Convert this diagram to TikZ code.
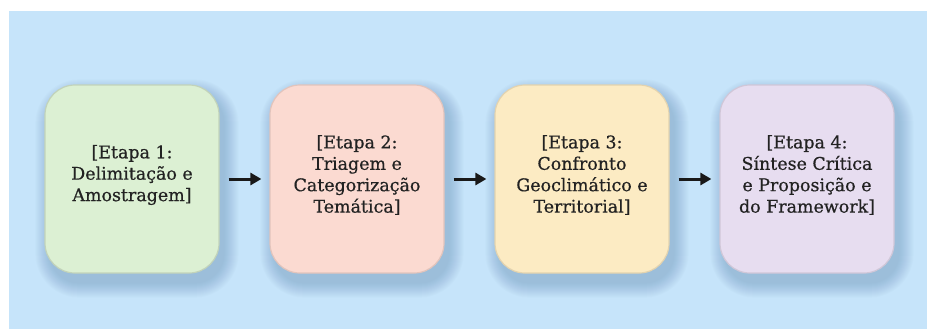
\documentclass[tikz,border=0pt]{standalone}
\usepackage{fontspec}
\setmainfont{DejaVu Serif}[FakeBold=0.6]
\usetikzlibrary{arrows.meta}
\definecolor{bgc}{HTML}{C6E4FA}
\definecolor{shc}{HTML}{5A86AE}
\definecolor{cA}{HTML}{DCF0D3}
\definecolor{cB}{HTML}{FBDAD1}
\definecolor{cC}{HTML}{FCEBC3}
\definecolor{cD}{HTML}{E7DDF0}
\definecolor{txt}{HTML}{222222}
\pgfdeclarelayer{back}
\pgfsetlayers{back,main}
\begin{document}
\begin{tikzpicture}[x=1bp,y=-1bp,
  box/.style={rounded corners=30bp, minimum width=174bp, minimum height=188bp, inner sep=0pt, line width=1.2bp},
  lbl/.style={align=center, font=\fontsize{17.5}{21.5}\selectfont, text=txt, inner sep=0pt},
  arr/.style={-{Triangle[length=11bp,width=12bp]}, line width=3bp, draw=black!90, shorten <=9bp, shorten >=8bp}
]
\useasboundingbox (0,0) rectangle (927,329);

\node[box, fill=cA, draw=cA!88!black] (b1) at (132,179) {};
\node[box, fill=cB, draw=cB!90!black] (b2) at (357,179) {};
\node[box, fill=cC, draw=cC!90!black] (b3) at (582,179) {};
\node[box, fill=cD, draw=cD!90!black] (b4) at (807,179) {};

\node[lbl] (t1) at ([yshift=4bp]b1.center) {[Etapa 1:\\Delimitação e\\Amostragem]};
\node[lbl] (t2) at ([yshift=4bp]b2.center) {[Etapa 2:\\Triagem e\\Categorização\\Temática]};
\node[lbl] (t3) at ([yshift=4bp]b3.center) {[Etapa 3:\\Confronto\\Geoclimático e\\Territorial]};
\node[lbl] (t4) at ([yshift=4bp]b4.center) {[Etapa 4:\\Síntese Crítica\\e Proposição e\\do Framework]};

\draw[arr] (b1.east) -- (b2.west);
\draw[arr] (b2.east) -- (b3.west);
\draw[arr] (b3.east) -- (b4.west);

\begin{pgfonlayer}{back}
  \fill[white] (0,0) rectangle (927,329);
  \fill[bgc] (9,11) rectangle (927,329);
  \foreach \b in {b1,b2,b3,b4}{
    \foreach \i in {0,...,14}{
      \pgfmathsetmacro{\r}{30+\i}
      \fill[shc, opacity=0.028, rounded corners=\r bp]
        ([shift={(5-\i,9-\i)}]\b.north west) rectangle ([shift={(5+\i,10+\i)}]\b.south east);
    }
  }
\end{pgfonlayer}
\end{tikzpicture}
\end{document}
